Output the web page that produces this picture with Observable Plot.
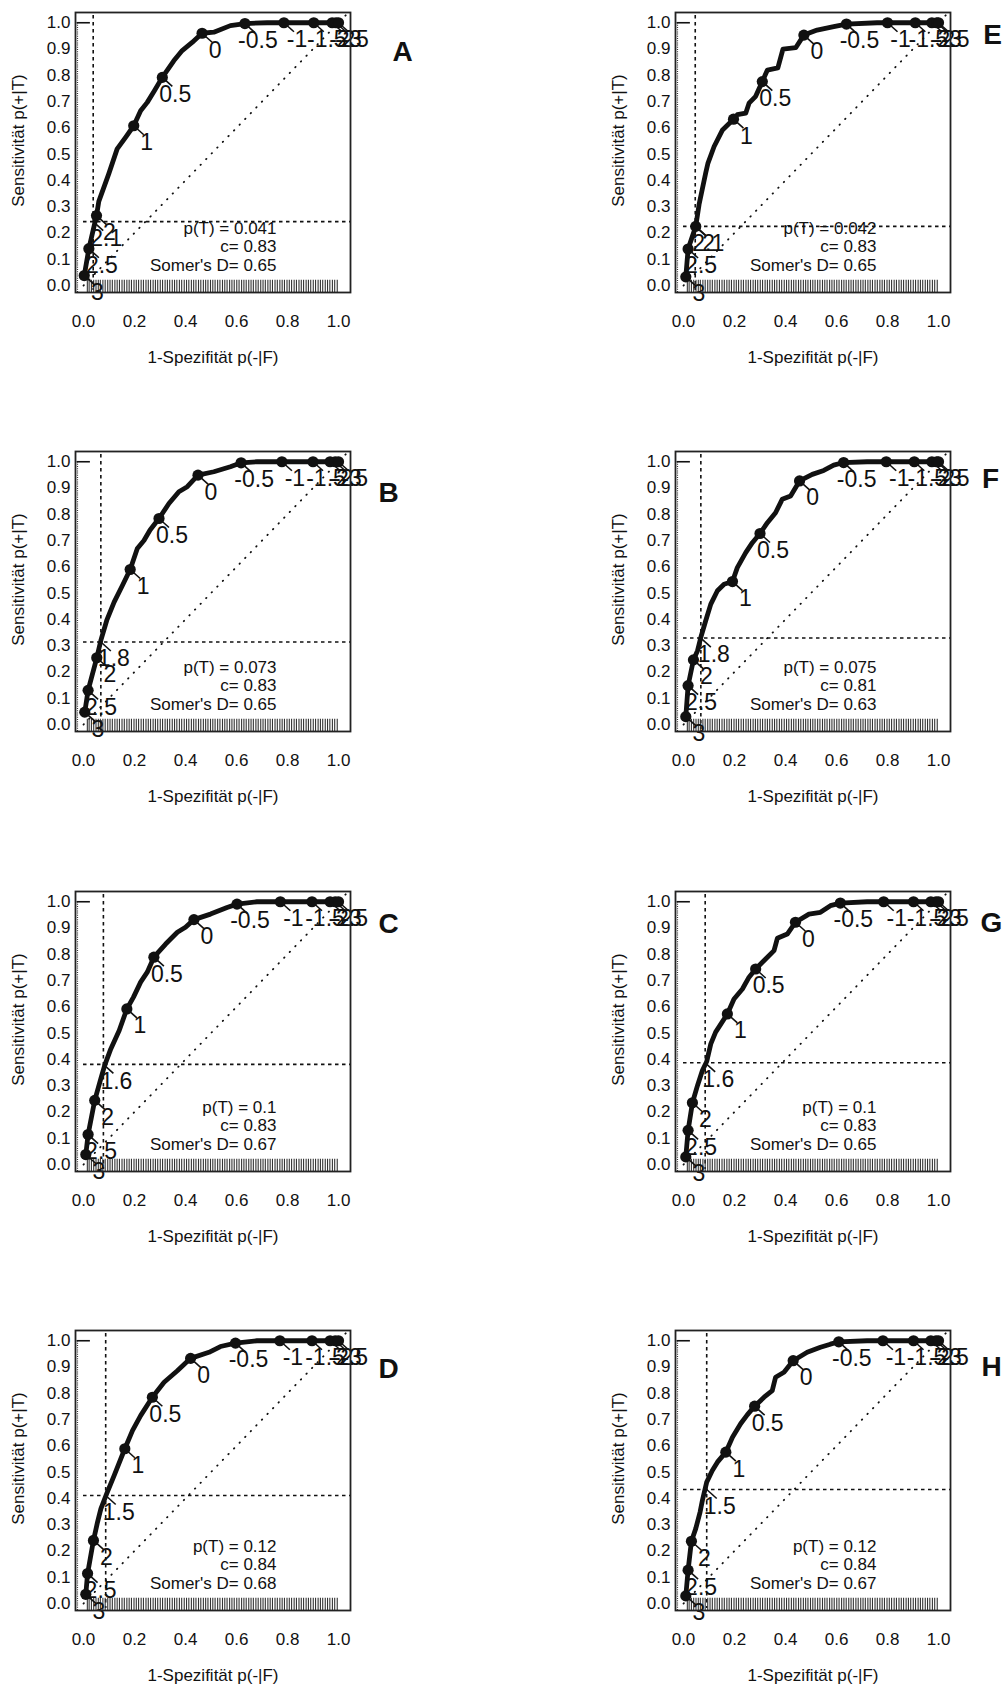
<!DOCTYPE html>
<html><head><meta charset="utf-8">
<script src="https://cdn.jsdelivr.net/npm/d3@7"></script>
<script src="https://cdn.jsdelivr.net/npm/@observablehq/plot@0.6"></script>
<style>
body{margin:0;background:#fff;}
#wrap{position:relative;width:1007px;height:1684px;overflow:hidden;background:#fff;}
.panel{position:absolute;width:430px;height:439px;}
</style></head><body><div id="wrap"></div>
<script>
// ---------- data ----------
const panelLetters = ["A","B","C","D","E","F","G","H"];
const cutLabels = ["3","2.5","2","1","0.5","0","-0.5","-1","-1.5","-2","-2.5","-3"];
const xTicks = [0,0.2,0.4,0.6,0.8,1.0];
const yTicks = [0,0.1,0.2,0.3,0.4,0.5,0.6,0.7,0.8,0.9,1.0];
const chanceLine = [0, 1.04];

const cutX = [
  [0.003,0.021,0.051,0.197,0.309,0.465,0.633,0.786,0.903,0.975,0.99,1],
  [0.005,0.018,0.052,0.183,0.296,0.449,0.618,0.778,0.9,0.967,0.987,1],
  [0.009,0.018,0.044,0.17,0.276,0.433,0.602,0.772,0.896,0.967,0.987,1],
  [0.009,0.016,0.039,0.162,0.27,0.42,0.596,0.77,0.896,0.967,0.987,1],
  [0.009,0.018,0.048,0.196,0.309,0.472,0.639,0.8,0.909,0.974,0.993,1],
  [0.009,0.018,0.039,0.192,0.3,0.455,0.628,0.795,0.905,0.974,0.993,1],
  [0.009,0.018,0.035,0.172,0.283,0.439,0.615,0.785,0.902,0.97,0.99,1],
  [0.009,0.018,0.031,0.166,0.279,0.43,0.609,0.782,0.902,0.97,0.99,1]
];
const cutY = [
  [0.038,0.14,0.266,0.608,0.792,0.96,0.997,1,1,1,1,1],
  [0.047,0.13,0.254,0.59,0.784,0.949,0.996,1,1,1,1,1],
  [0.038,0.114,0.244,0.592,0.789,0.932,0.991,1,1,1,1,1],
  [0.035,0.114,0.24,0.589,0.785,0.933,0.991,1,1,1,1,1],
  [0.033,0.139,0.225,0.633,0.776,0.953,0.995,1,1,1,1,1],
  [0.03,0.148,0.246,0.544,0.727,0.927,0.997,1,1,1,1,1],
  [0.029,0.13,0.235,0.573,0.744,0.922,0.995,1,1,1,1,1],
  [0.029,0.127,0.237,0.576,0.751,0.924,0.996,1,1,1,1,1]
];

const rocA = [[0.003,0.038],[0.021,0.14],[0.051,0.266],[0.06,0.32],[0.099,0.425],[0.132,0.52],[0.165,0.564],[0.197,0.608],[0.224,0.665],[0.25,0.697],[0.278,0.741],[0.309,0.792],[0.354,0.855],[0.387,0.894],[0.426,0.925],[0.465,0.96],[0.511,0.964],[0.576,0.989],[0.633,0.997],[0.72,1],[1,1]];
const rocB = [[0.005,0.047],[0.018,0.13],[0.052,0.254],[0.068,0.32],[0.091,0.396],[0.12,0.466],[0.153,0.53],[0.183,0.59],[0.211,0.67],[0.237,0.70],[0.261,0.74],[0.296,0.784],[0.335,0.841],[0.374,0.886],[0.407,0.905],[0.449,0.949],[0.511,0.962],[0.576,0.981],[0.618,0.996],[0.681,1],[1,1]];
const rocC = [[0.009,0.038],[0.018,0.114],[0.044,0.244],[0.068,0.327],[0.083,0.377],[0.107,0.44],[0.14,0.51],[0.17,0.592],[0.196,0.637],[0.224,0.694],[0.25,0.732],[0.276,0.789],[0.322,0.839],[0.368,0.884],[0.4,0.903],[0.433,0.932],[0.498,0.953],[0.563,0.978],[0.602,0.991],[0.68,1],[1,1]];
const rocD = [[0.009,0.035],[0.016,0.114],[0.039,0.24],[0.055,0.31],[0.068,0.36],[0.091,0.418],[0.12,0.487],[0.162,0.589],[0.192,0.658],[0.224,0.715],[0.27,0.785],[0.316,0.842],[0.368,0.886],[0.42,0.933],[0.492,0.956],[0.537,0.978],[0.596,0.991],[0.68,1],[1,1]];
const rocE = [[0.009,0.033],[0.018,0.139],[0.048,0.225],[0.061,0.308],[0.087,0.428],[0.096,0.466],[0.12,0.529],[0.153,0.592],[0.196,0.633],[0.211,0.65],[0.244,0.656],[0.257,0.694],[0.283,0.72],[0.309,0.776],[0.329,0.82],[0.37,0.828],[0.39,0.9],[0.44,0.905],[0.472,0.953],[0.524,0.972],[0.589,0.985],[0.639,0.995],[0.759,1],[1,1]];
const rocF = [[0.009,0.03],[0.018,0.148],[0.039,0.246],[0.055,0.281],[0.068,0.332],[0.087,0.395],[0.107,0.458],[0.133,0.509],[0.159,0.534],[0.192,0.544],[0.211,0.597],[0.244,0.654],[0.27,0.692],[0.3,0.727],[0.329,0.768],[0.361,0.806],[0.387,0.857],[0.42,0.87],[0.455,0.927],[0.505,0.952],[0.55,0.967],[0.589,0.987],[0.628,0.997],[0.72,1],[1,1]];
const rocG = [[0.009,0.029],[0.018,0.13],[0.035,0.235],[0.055,0.301],[0.074,0.358],[0.091,0.392],[0.107,0.459],[0.126,0.504],[0.172,0.573],[0.198,0.63],[0.231,0.668],[0.257,0.713],[0.283,0.744],[0.322,0.782],[0.355,0.814],[0.368,0.861],[0.407,0.877],[0.439,0.922],[0.492,0.953],[0.537,0.96],[0.576,0.985],[0.615,0.995],[0.72,1],[1,1]];
const rocH = [[0.009,0.029],[0.018,0.127],[0.031,0.237],[0.048,0.285],[0.065,0.348],[0.074,0.392],[0.091,0.462],[0.113,0.506],[0.133,0.538],[0.166,0.576],[0.192,0.633],[0.224,0.684],[0.25,0.718],[0.279,0.751],[0.316,0.785],[0.348,0.81],[0.361,0.861],[0.394,0.88],[0.43,0.924],[0.485,0.956],[0.537,0.975],[0.576,0.987],[0.609,0.996],[0.72,1],[1,1]];
const rocCurves = [rocA,rocB,rocC,rocD,rocE,rocF,rocG,rocH];

const optLabel = ["2.1","1.8","1.6","1.5","2.1","1.8","1.6","1.5"];
const optX = [0.038,0.068,0.078,0.087,0.046,0.068,0.085,0.091];
const optY = [0.243,0.314,0.381,0.411,0.225,0.329,0.387,0.434];

const pT = ["0.041","0.073","0.1","0.12","0.042","0.075","0.1","0.12"];
const cStat = ["0.83","0.83","0.83","0.84","0.83","0.81","0.83","0.84"];
const somersD = ["0.65","0.65","0.67","0.68","0.65","0.63","0.65","0.67"];

const rugX = [0.015,0.022,0.031,0.04,0.049,0.058,0.066,0.076,0.085,0.095,0.104,0.113,0.123,0.132,0.141,0.151,0.16,0.17,0.179,0.188,0.198,0.207,0.216,0.226,0.235,0.245,0.254,0.263,0.273,0.282,0.291,0.301,0.31,0.32,0.329,0.338,0.348,0.357,0.366,0.376,0.385,0.395,0.404,0.413,0.423,0.432,0.441,0.451,0.46,0.47,0.479,0.488,0.498,0.507,0.516,0.526,0.535,0.545,0.554,0.563,0.573,0.582,0.591,0.601,0.61,0.62,0.629,0.638,0.648,0.657,0.666,0.676,0.685,0.695,0.704,0.713,0.723,0.732,0.741,0.751,0.76,0.77,0.779,0.788,0.798,0.807,0.816,0.826,0.835,0.845,0.854,0.863,0.873,0.882,0.891,0.901,0.91,0.92,0.929,0.938,0.948,0.957,0.966,0.976,0.985,0.995];

// ---------- layout / style ----------
const W = 430, H = 439;
const M = {left: 75, right: 80, top: 12, bottom: 147};
const xDomain = [-0.0314, 1.047], yDomain = [-0.0266, 1.039];
const pxX = (xDomain[1] - xDomain[0]) / (W - M.left - M.right);
const pxY = (yDomain[1] - yDomain[0]) / (H - M.top - M.bottom);
const letterPos = [[402,52],[388,54],[388,45],[388,51],[392,35],[390,40],[391,44],[391,49]];
const ink = "#111";
const font = "'Liberation Sans', Arial, Helvetica, sans-serif";

function panel(i) {
  const curve = rocCurves[i].map(([x, y]) => ({x, y}));
  const cuts = cutLabels.map((t, j) => ({x: cutX[i][j], y: cutY[i][j], t}));
  const opt = [{x: optX[i], y: optY[i], t: optLabel[i]}];
  const labelled = cuts.concat(opt);
  const [lx, ly] = letterPos[i];
  return Plot.plot({
    width: W, height: H,
    marginLeft: M.left, marginRight: M.right, marginTop: M.top, marginBottom: M.bottom,
    x: {domain: xDomain},
    y: {domain: yDomain},
    style: {fontFamily: font, fontSize: "17px", color: ink, background: "white", overflow: "visible"},
    marks: [
      Plot.line(chanceLine, {x: d => d, y: d => d, stroke: "#111", strokeWidth: 1.8, strokeDasharray: "0.5,7.5", strokeLinecap: "round"}),
      Plot.ruleX([optX[i]], {stroke: "#111", strokeWidth: 1.6, strokeDasharray: "3.5,3.5", insetTop: 3, insetBottom: 2}),
      Plot.ruleY([optY[i]], {x1: 0, x2: xDomain[1], stroke: "#111", strokeWidth: 1.6, strokeDasharray: "3.5,3.5"}),
      Plot.ruleX(rugX, {y1: yDomain[0], y2: 0.02, stroke: "#333", strokeWidth: 1.1}),
      Plot.ruleX([xDomain[0] + 0.008], {y1: yDomain[0], y2: 1, stroke: "#333", strokeWidth: 1.1, strokeDasharray: "1,1.2"}),
      Plot.ruleY([1], {x1: xDomain[0] + 0.006, x2: 0.027, stroke: "#111", strokeWidth: 1.6}),
      Plot.text([`p(T) = ${pT[i]}`], {frameAnchor: "top-left", dx: 201, dy: 216, textAnchor: "end", lineAnchor: "middle", fontSize: 17, fill: ink}),
      Plot.text([`c= ${cStat[i]}`], {frameAnchor: "top-left", dx: 201, dy: 234.5, textAnchor: "end", lineAnchor: "middle", fontSize: 17, fill: ink}),
      Plot.text([`Somer's D= ${somersD[i]}`], {frameAnchor: "top-left", dx: 201, dy: 253, textAnchor: "end", lineAnchor: "middle", fontSize: 17, fill: ink}),
      Plot.line(curve, {x: "x", y: "y", stroke: "#111", strokeWidth: 4.8, strokeLinejoin: "round", strokeLinecap: "round"}),
      Plot.link(labelled, {x1: "x", y1: "y", x2: d => d.x + 10 * pxX, y2: d => d.y - 9 * pxY, stroke: "#111", strokeWidth: 1.6}),
      Plot.dot(cuts, {x: "x", y: "y", r: 5.6, fill: "#111", stroke: "none"}),
      Plot.text(labelled, {x: "x", y: "y", text: "t", dx: 13, dy: 17, fontSize: 23, fill: ink, textAnchor: "middle", lineAnchor: "middle"}),
      Plot.frame({stroke: "#222", strokeWidth: 1.8}),
      Plot.text([panelLetters[i]], {frameAnchor: "top-left", dx: lx - M.left, dy: ly - M.top, fontSize: 28, fontWeight: "bold", textAnchor: "middle", lineAnchor: "middle", fill: ink}),
      Plot.axisY({ticks: yTicks, tickSize: 0, tickPadding: 5, tickFormat: d => d.toFixed(1), fontSize: 17, label: null}),
      Plot.axisX({ticks: xTicks, tickSize: 0, tickPadding: 22, tickFormat: d => d.toFixed(1), fontSize: 17, label: null}),
      Plot.text(["1-Spezifität p(-|F)"], {frameAnchor: "bottom", dy: 65, lineAnchor: "middle", textAnchor: "middle", fontSize: 17, fill: ink}),
      Plot.text(["Sensitivität p(+|T)"], {frameAnchor: "left", dx: -57, dy: -12, rotate: -90, lineAnchor: "middle", textAnchor: "middle", fontSize: 17, fill: ink})
    ]
  });
}

const wrap = document.getElementById("wrap");
panelLetters.forEach((L, i) => {
  const col = i < 4 ? 0 : 1, row = i % 4;
  const div = document.createElement("div");
  div.className = "panel";
  div.style.left = (col * 600) + "px";
  div.style.top = Math.round(row * 439.3) + "px";
  div.appendChild(panel(i));
  wrap.appendChild(div);
});
</script></body></html>
